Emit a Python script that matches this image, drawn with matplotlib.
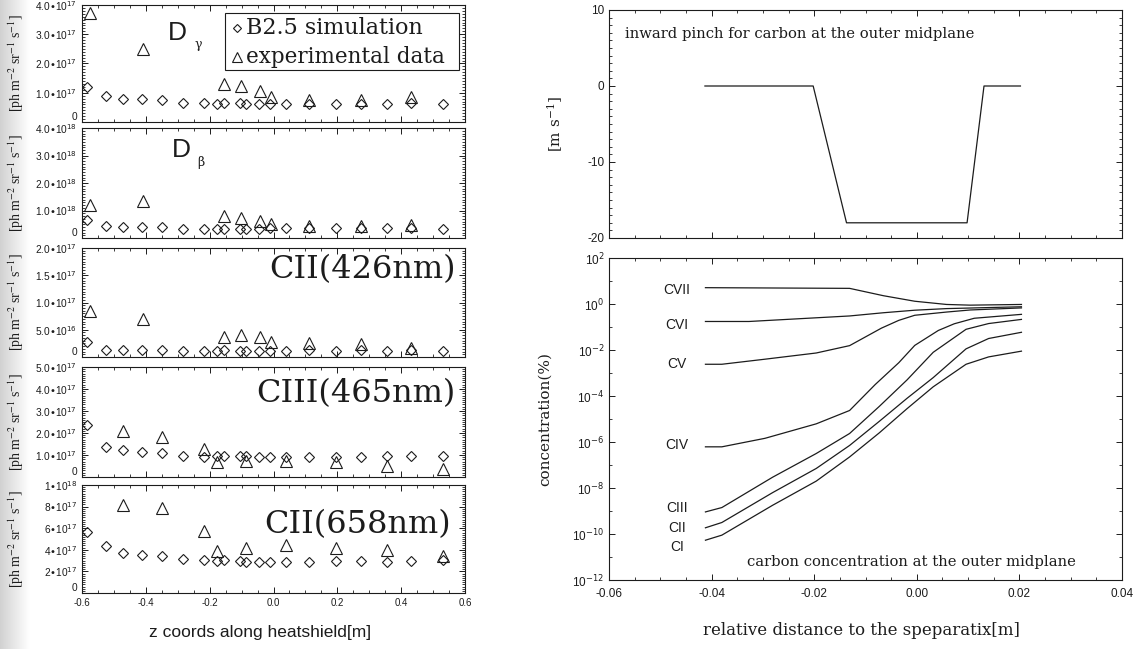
import numpy as np
import matplotlib
matplotlib.use("Agg")
import matplotlib.pyplot as plt
from matplotlib.patches import Rectangle
from matplotlib.ticker import FixedLocator, MultipleLocator, FuncFormatter, NullFormatter

plt.rcParams['axes.unicode_minus'] = False
plt.rcParams['font.family'] = ['Liberation Sans', 'DejaVu Sans']
plt.rcParams['mathtext.fontset'] = 'dejavusans'

INK = '#1c1c1c'
SERIF = 'DejaVu Serif'
TIMES = 'Liberation Serif'
SANS = 'Liberation Sans'

# ---------------------------------------------------------------- data
# positions along the heatshield [m]
z_sim = [-0.585, -0.525, -0.473, -0.411, -0.350, -0.282, -0.218, -0.176, -0.156, -0.106,
         -0.085, -0.044, -0.010, 0.038, 0.112, 0.195, 0.275, 0.356, 0.431, 0.532]
z_exp_d = [-0.575, -0.410, -0.155, -0.103, -0.043, -0.008, 0.112, 0.275, 0.430]
z_exp_c = [-0.473, -0.350, -0.218, -0.176, -0.085, 0.038, 0.195, 0.356, 0.532]

# D gamma [ph m^-2 sr^-1 s^-1]
dgamma_sim = [1.18e17, 0.89e17, 0.78e17, 0.78e17, 0.74e17, 0.65e17, 0.65e17, 0.63e17, 0.65e17, 0.65e17,
              0.63e17, 0.63e17, 0.63e17, 0.63e17, 0.63e17, 0.63e17, 0.63e17, 0.63e17, 0.66e17, 0.61e17]
dgamma_exp = [3.72e17, 2.50e17, 1.29e17, 1.23e17, 1.06e17, 0.86e17, 0.74e17, 0.74e17, 0.86e17]

# D beta
dbeta_sim = [0.64e18, 0.45e18, 0.40e18, 0.40e18, 0.40e18, 0.33e18, 0.33e18, 0.33e18, 0.33e18, 0.33e18,
             0.33e18, 0.33e18, 0.35e18, 0.35e18, 0.35e18, 0.35e18, 0.35e18, 0.35e18, 0.35e18, 0.33e18]
dbeta_exp = [1.21e18, 1.33e18, 0.79e18, 0.73e18, 0.61e18, 0.52e18, 0.45e18, 0.45e18, 0.48e18]

# CII 426 nm
cii426_sim = [2.8e16, 1.35e16, 1.35e16, 1.35e16, 1.35e16, 1.1e16, 1.1e16, 1.1e16, 1.2e16, 1.1e16,
              1.1e16, 1.1e16, 1.1e16, 1.1e16, 1.3e16, 1.1e16, 1.3e16, 1.1e16, 1.3e16, 1.1e16]
cii426_exp = [8.5e16, 6.9e16, 3.7e16, 4.1e16, 3.7e16, 2.8e16, 2.6e16, 2.3e16, 1.7e16]

# CIII 465 nm
ciii465_sim = [2.35e17, 1.36e17, 1.21e17, 1.14e17, 1.10e17, 0.95e17, 0.91e17, 0.94e17, 0.94e17, 0.94e17,
               0.94e17, 0.91e17, 0.91e17, 0.91e17, 0.91e17, 0.93e17, 0.91e17, 0.94e17, 0.94e17, 0.94e17]
ciii465_exp = [2.09e17, 1.82e17, 1.29e17, 0.68e17, 0.73e17, 0.73e17, 0.66e17, 0.48e17, 0.38e17]

# CII 658 nm
cii658_sim = [5.63e17, 4.37e17, 3.75e17, 3.54e17, 3.45e17, 3.14e17, 3.08e17, 2.98e17, 3.05e17, 2.92e17,
              2.86e17, 2.83e17, 2.83e17, 2.83e17, 2.86e17, 2.92e17, 2.98e17, 2.86e17, 2.98e17, 3.08e17]
cii658_exp = [8.15e17, 7.85e17, 5.75e17, 3.90e17, 4.20e17, 4.46e17, 4.20e17, 4.00e17, 3.40e17]

# y ticks of the emission panels
ticks_dgamma = [0, 1e17, 2e17, 3e17, 4e17]
labels_dgamma = ['0', '1.0•10$^{17}$', '2.0•10$^{17}$', '3.0•10$^{17}$', '4.0•10$^{17}$']
ticks_dbeta = [0, 1e18, 2e18, 3e18, 4e18]
labels_dbeta = ['0', '1.0•10$^{18}$', '2.0•10$^{18}$', '3.0•10$^{18}$', '4.0•10$^{18}$']
ticks_cii426 = [0, 5e16, 1e17, 1.5e17, 2e17]
labels_cii426 = ['0', '5.0•10$^{16}$', '1.0•10$^{17}$', '1.5•10$^{17}$', '2.0•10$^{17}$']
ticks_ciii465 = [0, 1e17, 2e17, 3e17, 4e17, 5e17]
labels_ciii465 = ['0', '1.0•10$^{17}$', '2.0•10$^{17}$', '3.0•10$^{17}$', '4.0•10$^{17}$', '5.0•10$^{17}$']
ticks_cii658 = [0, 2e17, 4e17, 6e17, 8e17, 1e18]
labels_cii658 = ['0', '2•10$^{17}$', '4•10$^{17}$', '6•10$^{17}$', '8•10$^{17}$', '1•10$^{18}$']
z_ticks = [-0.6, -0.4, -0.2, 0.0, 0.2, 0.4, 0.6]

# inward pinch velocity at the outer midplane [m/s]
pinch_r = [-0.0413, -0.0202, -0.0137, 0.0098, 0.0131, 0.0202]
pinch_v = [0.0, 0.0, -18.0, -18.0, 0.0, 0.0]

# carbon charge-state concentrations, log10 of percent
r_cvii = [-0.0412, -0.0131, -0.0065, -0.0004, 0.0058, 0.0104, 0.0204]
log_cvii = [0.71, 0.68, 0.36, 0.12, -0.02, -0.05, -0.02]
r_cvi = [-0.0412, -0.0327, -0.0131, -0.0065, -0.0004, 0.0058, 0.0204]
log_cvi = [-0.76, -0.76, -0.52, -0.38, -0.27, -0.20, -0.12]
r_cv = [-0.0412, -0.0380, -0.0296, -0.0196, -0.0131, -0.0069, -0.0035, -0.0004, 0.0058, 0.0104, 0.0204]
log_cv = [-2.62, -2.62, -2.40, -2.13, -1.81, -1.05, -0.71, -0.49, -0.35, -0.26, -0.17]
r_civ = [-0.0412, -0.0380, -0.0296, -0.0196, -0.0131, -0.0081, -0.0035, -0.0004, 0.0042, 0.0073,
         0.0112, 0.0204]
log_civ = [-6.21, -6.21, -5.84, -5.21, -4.63, -3.50, -2.55, -1.80, -1.15, -0.86, -0.62, -0.45]
r_low = [-0.0412, -0.0380, -0.0281, -0.0196, -0.0131, -0.0073, -0.0019, 0.0032, 0.0096, 0.0140, 0.0204]
log_ciii = [-9.04, -8.85, -7.53, -6.50, -5.63, -4.45, -3.30, -2.10, -1.10, -0.85, -0.67]
log_cii = [-9.73, -9.50, -8.20, -7.15, -6.15, -5.10, -4.10, -3.20, -1.95, -1.50, -1.23]
log_ci = [-10.27, -10.05, -8.75, -7.70, -6.65, -5.60, -4.55, -3.60, -2.62, -2.30, -2.05]
ion_names = ['CVII', 'CVI', 'CV', 'CIV', 'CIII', 'CII', 'CI']
ion_label_log = [0.61, -0.90, -2.62, -6.15, -8.85, -9.75, -10.55]

# ---------------------------------------------------------------- figure
W, H = 1140, 649
fig = plt.figure(figsize=(W / 100, H / 100), dpi=100)
fig.patch.set_facecolor('white')

# soft grey shading along the left margin of the page
shade = fig.add_axes([0, 0, 30 / W, 1], zorder=-5)
shade.imshow(np.linspace(0.82, 1.0, 64)[None, :], cmap='gray', vmin=0, vmax=1,
             aspect='auto', extent=[0, 1, 0, 1])
shade.axis('off')


def box(left, top, right, bottom):
    return fig.add_axes([left / W, 1 - bottom / H, (right - left) / W, (bottom - top) / H])


def frame(ax, major=4.5, minor=2.2):
    for s in ax.spines.values():
        s.set_color(INK)
        s.set_linewidth(0.8)
    ax.tick_params(which='both', direction='in', top=True, right=True, colors=INK)
    ax.tick_params(which='major', length=major, width=0.7)
    ax.tick_params(which='minor', length=minor, width=0.6)


# ---- emission profiles along the heatshield
panels = [
    ((5, 122), dgamma_sim, z_exp_d, dgamma_exp, ticks_dgamma, labels_dgamma),
    ((128, 238), dbeta_sim, z_exp_d, dbeta_exp, ticks_dbeta, labels_dbeta),
    ((248, 357), cii426_sim, z_exp_d, cii426_exp, ticks_cii426, labels_cii426),
    ((367, 477), ciii465_sim, z_exp_c, ciii465_exp, ticks_ciii465, labels_ciii465),
    ((485, 593), cii658_sim, z_exp_c, cii658_exp, ticks_cii658, labels_cii658),
]
left_axes = []
for (top, bottom), sim, zexp, exp, yt, yl in panels:
    ax = box(82, top, 465, bottom)
    frame(ax, major=4.0, minor=2.0)
    ax.plot(z_sim, sim, linestyle='none', marker='D', ms=5.3, mfc='none', mec=INK, mew=0.8)
    ax.plot(zexp, exp, linestyle='none', marker='^', ms=8, mfc='none', mec=INK, mew=0.8)
    ax.set_xlim(-0.6, 0.6)
    ax.set_ylim(yt[0], yt[-1])
    ax.yaxis.set_major_locator(FixedLocator(yt))
    ax.yaxis.set_minor_locator(MultipleLocator((yt[1] - yt[0]) / 10))
    ticklabels = ax.set_yticklabels(yl, fontsize=7.3, family=SANS)
    ticklabels[0].set_va('bottom')
    ax.xaxis.set_major_locator(FixedLocator(z_ticks))
    ax.xaxis.set_minor_locator(MultipleLocator(0.05))
    ax.xaxis.set_major_formatter(NullFormatter())
    ax.set_ylabel('[ph m$^{-2}$ sr$^{-1}$ s$^{-1}$]', family=TIMES, fontsize=10,
                  math_fontfamily='stix', color=INK)
    ax.yaxis.set_label_coords(-0.146, 0.5)
    left_axes.append(ax)

ax_g, ax_b, ax_426, ax_465, ax_658 = left_axes
ax_658.xaxis.set_major_formatter(FuncFormatter(lambda v, p: f'{v:.1f}' if abs(v) > 1e-9 else '0.0'))
ax_658.tick_params(axis='x', labelsize=7)
ax_658.set_xlabel('z coords along heatshield[m]', family=SANS, fontsize=12.5, color=INK)
ax_658.xaxis.set_label_coords(0.465, -0.30)

ax_g.text(0.224, 0.76, 'D', transform=ax_g.transAxes, family=SANS, fontsize=19,
          ha='left', va='center', color=INK)
ax_g.text(0.295, 0.665, 'γ', transform=ax_g.transAxes, family=SERIF, fontsize=9,
          ha='left', va='center', color=INK)
ax_b.text(0.235, 0.80, 'D', transform=ax_b.transAxes, family=SANS, fontsize=19,
          ha='left', va='center', color=INK)
ax_b.text(0.300, 0.685, 'β', transform=ax_b.transAxes, family=SERIF, fontsize=9,
          ha='left', va='center', color=INK)
ax_426.text(0.975, 0.80, 'CII(426nm)', transform=ax_426.transAxes, family=SERIF,
            fontsize=23, ha='right', va='center', color=INK)
ax_465.text(0.975, 0.76, 'CIII(465nm)', transform=ax_465.transAxes, family=SERIF,
            fontsize=23, ha='right', va='center', color=INK)
ax_658.text(0.962, 0.63, 'CII(658nm)', transform=ax_658.transAxes, family=SERIF,
            fontsize=23, ha='right', va='center', color=INK)

# legend box in the top panel
ax_g.add_patch(Rectangle((0.373, 0.444), 0.611, 0.486, transform=ax_g.transAxes,
                         fill=False, ec=INK, lw=0.8))
ax_g.plot([0.405], [0.80], transform=ax_g.transAxes, marker='D', ms=4.3, mfc='none',
          mec=INK, mew=0.8, linestyle='none')
ax_g.plot([0.405], [0.556], transform=ax_g.transAxes, marker='^', ms=6.5, mfc='none',
          mec=INK, mew=0.8, linestyle='none')
ax_g.text(0.428, 0.80, 'B2.5 simulation', transform=ax_g.transAxes, family=SERIF,
          fontsize=16, ha='left', va='center', color=INK)
ax_g.text(0.428, 0.556, 'experimental data', transform=ax_g.transAxes, family=SERIF,
          fontsize=15.5, ha='left', va='center', color=INK)

# ---- inward pinch velocity
r_ticks = [-0.06, -0.04, -0.02, 0.0, 0.02, 0.04]
ax_top = box(609, 10, 1122, 238)
frame(ax_top)
ax_top.plot(pinch_r, pinch_v, color=INK, lw=0.9)
ax_top.set_xlim(-0.06, 0.04)
ax_top.set_ylim(-20, 10)
ax_top.xaxis.set_major_locator(FixedLocator(r_ticks))
ax_top.xaxis.set_minor_locator(MultipleLocator(0.005))
ax_top.xaxis.set_major_formatter(NullFormatter())
ax_top.yaxis.set_major_locator(FixedLocator([-20, -10, 0, 10]))
ax_top.yaxis.set_minor_locator(MultipleLocator(1))
ax_top.yaxis.set_major_formatter(FuncFormatter(lambda v, p: f'{v:.0f}'))
ax_top.tick_params(axis='y', labelsize=8.5)
ax_top.set_ylabel('[m s$^{-1}$]', family=SERIF, fontsize=11, math_fontfamily='dejavuserif',
                  color=INK)
ax_top.yaxis.set_label_coords(-0.086, 0.5)
ax_top.text(0.031, 0.895, 'inward pinch for carbon at the outer midplane',
            transform=ax_top.transAxes, family=SERIF, fontsize=10.6, ha='left', va='center',
            color=INK)

# ---- carbon concentration
ax_low = box(609, 258, 1122, 580)
frame(ax_low)
ax_low.set_yscale('log')
curves = [(r_cvii, log_cvii), (r_cvi, log_cvi), (r_cv, log_cv), (r_civ, log_civ),
          (r_low, log_ciii), (r_low, log_cii), (r_low, log_ci)]
for rr, lc in curves:
    ax_low.plot(rr, np.power(10.0, lc), color=INK, lw=0.9)
for name, lg in zip(ion_names, ion_label_log):
    ax_low.text(-0.0467, 10.0 ** lg, name, family=SANS, fontsize=10, ha='center',
                va='center', color=INK)
ax_low.set_xlim(-0.06, 0.04)
ax_low.set_ylim(1e-12, 1e2)
ax_low.xaxis.set_major_locator(FixedLocator(r_ticks))
ax_low.xaxis.set_minor_locator(MultipleLocator(0.005))
ax_low.xaxis.set_major_formatter(FuncFormatter(lambda v, p: f'{v:.2f}' if abs(v) > 1e-9 else '0.00'))
ax_low.yaxis.set_major_locator(FixedLocator([10.0 ** k for k in range(-12, 3, 2)]))
ax_low.yaxis.set_minor_locator(FixedLocator([10.0 ** k for k in range(-11, 2, 2)]))
ax_low.yaxis.set_minor_formatter(NullFormatter())
ax_low.yaxis.set_major_formatter(FuncFormatter(lambda v, p: '10$^{%d}$' % round(np.log10(v))))
ax_low.tick_params(axis='both', labelsize=8.5)
ax_low.tick_params(axis='x', pad=6)
ax_low.set_ylabel('concentration(%)', family=SERIF, fontsize=11, color=INK)
ax_low.yaxis.set_label_coords(-0.111, 0.5)
ax_low.set_xlabel('relative distance to the speparatix[m]', family=SERIF, fontsize=12, color=INK)
ax_low.xaxis.set_label_coords(0.493, -0.13)
ax_low.text(0.269, 0.056, 'carbon concentration at the outer midplane',
            transform=ax_low.transAxes, family=SERIF, fontsize=10.6, ha='left', va='center',
            color=INK)

fig.savefig('out.png', dpi=100)
